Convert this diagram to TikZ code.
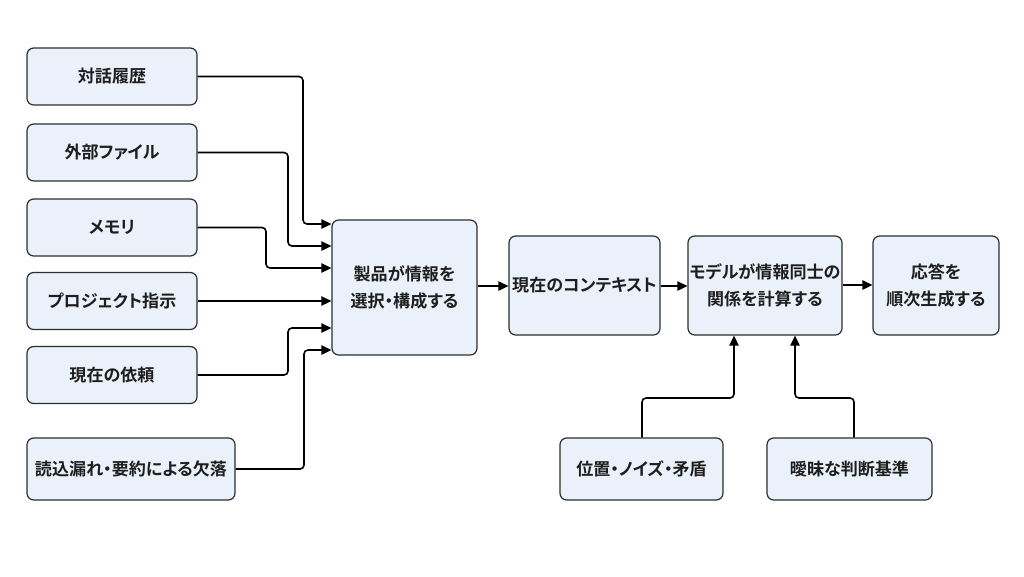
\documentclass[tikz,border=0pt]{standalone}
\usepackage{fontspec}
\setmainfont{Noto Sans CJK JP}[BoldFont={* Bold},RawFeature=+palt]
\usetikzlibrary{arrows.meta,calc}
\definecolor{boxfill}{HTML}{EAF1FA}
\definecolor{boxdraw}{HTML}{2E2E2E}
\definecolor{txt}{HTML}{1E1E1E}
\tikzset{
  box/.style={draw=boxdraw,fill=boxfill,line width=0.9pt,rounded corners=5pt,
    align=center,font=\fontsize{12.8pt}{20pt}\selectfont\bfseries,text=txt,inner sep=0pt},
  arr/.style={draw=black,line width=1.2pt,rounded corners=3pt,-{Triangle[length=7.5pt,width=7pt]}}
}
\begin{document}
\begin{tikzpicture}[x=0.75pt,y=-0.75pt]
\useasboundingbox[fill=white] (0,0) rectangle (1024,576);
% left inputs
\node[box,minimum width=127.5pt,minimum height=42.75pt] (a1) at (112,76.5) {対話履歴};
\node[box,minimum width=127.5pt,minimum height=42.75pt] (a2) at (112,152.5) {外部ファイル};
\node[box,minimum width=127.5pt,minimum height=42.75pt] (a3) at (112,227.5) {メモリ};
\node[box,minimum width=127.5pt,minimum height=42.75pt] (a4) at (112,301) {プロジェクト指示};
\node[box,minimum width=127.5pt,minimum height=42.75pt] (a5) at (112,375) {現在の依頼};
\node[box,minimum width=156pt,minimum height=46.5pt] (a6) at (131,469) {読込漏れ・要約による欠落};
% main chain
\node[box,minimum width=108.75pt,minimum height=101.25pt] (b) at (404.5,287.5) {製品が情報を\\選択・構成する};
\node[box,minimum width=113.25pt,minimum height=74.25pt] (c) at (584.5,285.5) {現在のコンテキスト};
\node[box,minimum width=115.5pt,minimum height=74.25pt] (d) at (765,285.5) {モデルが情報同士の\\関係を計算する};
\node[box,minimum width=94.5pt,minimum height=74.25pt] (e) at (936,285.5) {応答を\\順次生成する};
% bottom inputs
\node[box,minimum width=122.25pt,minimum height=46.5pt] (f) at (641.5,469) {位置・ノイズ・矛盾};
\node[box,minimum width=123.75pt,minimum height=46.5pt] (g) at (849.5,469) {曖昧な判断基準};
% arrows into b
\draw[arr] (a1.east) -- (303,76.5) |- (b.west |- 0,224);
\draw[arr] (a2.east) -- (288,152.5) |- (b.west |- 0,246);
\draw[arr] (a3.east) -- (266,227.5) |- (b.west |- 0,268);
\draw[arr] (a4.east) -- (a4.east -| b.west);
\draw[arr] (a5.east) -- (288,375) |- (b.west |- 0,328);
\draw[arr] (a6.east) -- (304,469) |- (b.west |- 0,350);
% chain
\draw[arr] (b.east |- 0,286) -- (c.west |- 0,286);
\draw[arr] (c.east |- 0,286) -- (d.west |- 0,286);
\draw[arr] (d.east |- 0,285) -- (e.west |- 0,285);
% bottom arrows
\draw[arr] (f.north -| 642,0) -- (642,398) -| (d.south -| 734,0);
\draw[arr] (g.north -| 854,0) -- (854,398) -| (d.south -| 795,0);
\end{tikzpicture}
\end{document}
